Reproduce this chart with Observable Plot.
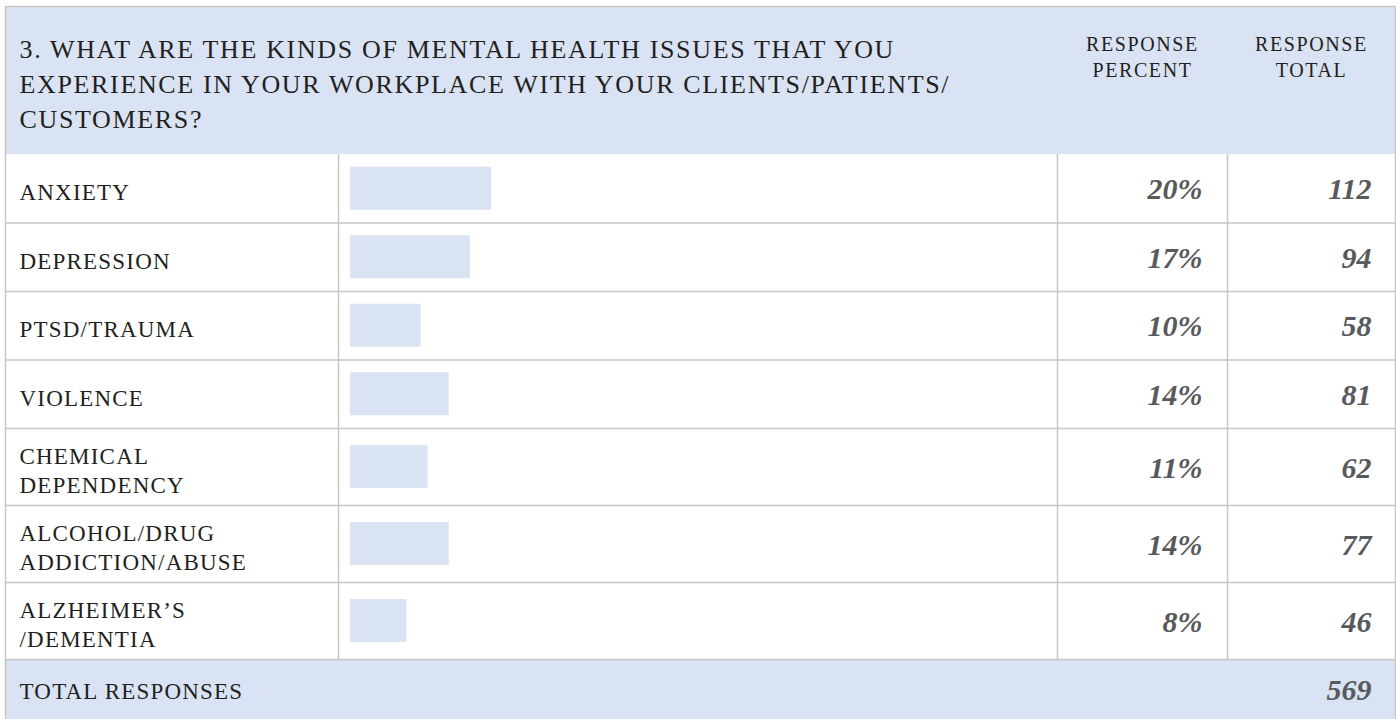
<!DOCTYPE html>
<html>
<head>
<meta charset="utf-8">
<script src="https://cdn.jsdelivr.net/npm/d3@7"></script>
<script src="https://cdn.jsdelivr.net/npm/@observablehq/plot@0.6"></script>
<style>
  html, body { margin: 0; padding: 0; background: #ffffff; }
  #chart svg { display: block; }
</style>
</head>
<body>
<div id="chart"></div>
<script>
// ---- data ----
const questionLines = [
  "3. WHAT ARE THE KINDS OF MENTAL HEALTH ISSUES THAT YOU",
  "EXPERIENCE IN YOUR WORKPLACE WITH YOUR CLIENTS/PATIENTS/",
  "CUSTOMERS?"
];
const columnHeaders = ["RESPONSE\nPERCENT", "RESPONSE\nTOTAL"];
const categories = [
  "ANXIETY",
  "DEPRESSION",
  "PTSD/TRAUMA",
  "VIOLENCE",
  "CHEMICAL\nDEPENDENCY",
  "ALCOHOL/DRUG\nADDICTION/ABUSE",
  "ALZHEIMER\u2019S\n/DEMENTIA"
];
const percents = [20, 17, 10, 14, 11, 14, 8];
const totals = [112, 94, 58, 81, 62, 77, 46];
const totalLabel = "TOTAL RESPONSES";
const totalResponses = 569;

// ---- layout (styles / geometry) ----
const W = 1396, H = 719;
const BLUE = "#d9e3f3";
const GRID = "#c6c6c6";
const INK = "#231f20";
const VAL = "#58595b";
const FONT = "'Liberation Serif', 'Times New Roman', serif";
const headerTop = 6, headerBottom = 154;
const singleRowH = 68.5, doubleRowH = 77;
const barH = 43;

// build row table from the data arrays
let acc = headerBottom;
const rows = categories.map((c, i) => {
  const lines = c.split("\n").length;
  const h = lines > 1 ? doubleRowH : singleRowH;
  const r = {label: c, pct: percents[i], total: totals[i], top: acc, bottom: acc + h, mid: acc + h / 2};
  acc += h;
  return r;
});
const bodyBottom = acc;
const boundaries = rows.slice(0, -1).map(r => r.bottom).concat([bodyBottom]);
const totalRow = {top: bodyBottom, bottom: H, mid: (bodyBottom + H) / 2};

const chart = Plot.plot({
  width: W,
  height: H,
  margin: 0,
  x: {domain: [0, 100], range: [350, 1055], axis: null},
  y: {domain: [0, H], range: [0, H], axis: null},
  style: {fontFamily: FONT, background: "#ffffff", color: INK},
  marks: [
    // header band
    Plot.rect([0], {y1: headerTop, y2: headerBottom, fill: BLUE, insetLeft: 5, insetRight: 1}),
    // total band
    Plot.rect([totalRow], {y1: "top", y2: "bottom", fill: BLUE, insetLeft: 5, insetRight: 1}),
    // bars
    Plot.rect(rows, {x1: 0, x2: "pct", y1: d => d.mid - barH / 2, y2: d => d.mid + barH / 2, fill: BLUE}),
    // horizontal grid lines
    Plot.ruleY(boundaries, {stroke: GRID, strokeWidth: 1.5, insetLeft: 5, insetRight: 1}),
    // vertical dividers
    Plot.ruleX([0], {y1: headerBottom, y2: bodyBottom, dx: -12, stroke: GRID, strokeWidth: 1.5}),
    Plot.ruleX([0], {y1: headerBottom, y2: bodyBottom, dx: 707, stroke: GRID, strokeWidth: 1.5}),
    Plot.ruleX([0], {y1: headerBottom, y2: bodyBottom, dx: 877, stroke: GRID, strokeWidth: 1.5}),
    // outer border
    Plot.frame({stroke: GRID, strokeWidth: 1.5, insetLeft: 5, insetTop: headerTop, insetRight: 1, insetBottom: -3}),
    // question text
    Plot.text([questionLines.join("\n")], {
      frameAnchor: "top-left", dx: 19, dy: 32, textAnchor: "start", lineAnchor: "top",
      fontSize: 26, lineHeight: 1.36, fill: INK, ariaDescription: "ls-question"
    }),
    // column headers
    Plot.text([columnHeaders[0]], {
      frameAnchor: "top-left", dx: 1142, dy: 31.5, textAnchor: "middle", lineAnchor: "top",
      fontSize: 20, lineHeight: 1.33, fill: INK, ariaDescription: "ls-colhead"
    }),
    Plot.text([columnHeaders[1]], {
      frameAnchor: "top-left", dx: 1311, dy: 31.5, textAnchor: "middle", lineAnchor: "top",
      fontSize: 20, lineHeight: 1.33, fill: INK, ariaDescription: "ls-colhead"
    }),
    // row labels
    Plot.text(rows, {
      y: "mid", text: "label", frameAnchor: "left", dx: 19, dy: 2, textAnchor: "start", lineAnchor: "middle",
      fontSize: 23, lineHeight: 1.28, fill: INK, ariaDescription: "ls-label"
    }),
    // percent values
    Plot.text(rows, {
      y: "mid", text: d => d.pct + "%", frameAnchor: "left", dx: 1202, dy: 1, textAnchor: "end", lineAnchor: "middle",
      fontSize: 30, fontWeight: "bold", fontStyle: "italic", fill: VAL
    }),
    // totals
    Plot.text(rows, {
      y: "mid", text: d => String(d.total), frameAnchor: "left", dx: 1371, dy: 1, textAnchor: "end", lineAnchor: "middle",
      fontSize: 30, fontWeight: "bold", fontStyle: "italic", fill: VAL
    }),
    // total row
    Plot.text([totalRow], {
      y: "mid", text: () => totalLabel, frameAnchor: "left", dx: 19, dy: 2, textAnchor: "start", lineAnchor: "middle",
      fontSize: 23, fill: INK, ariaDescription: "ls-label"
    }),
    Plot.text([totalRow], {
      y: "mid", text: () => String(totalResponses), frameAnchor: "left", dx: 1371, dy: 1, textAnchor: "end", lineAnchor: "middle",
      fontSize: 30, fontWeight: "bold", fontStyle: "italic", fill: VAL
    })
  ]
});
// letter spacing to approximate the wide small-caps serif of the original
const spacing = {"ls-question": "1.65px", "ls-colhead": "1.6px", "ls-label": "1.2px"};
for (const [k, v] of Object.entries(spacing)) {
  d3.select(chart).selectAll(`g[aria-description="${k}"]`).style("letter-spacing", v);
}
document.getElementById("chart").appendChild(chart);
</script>
</body>
</html>
